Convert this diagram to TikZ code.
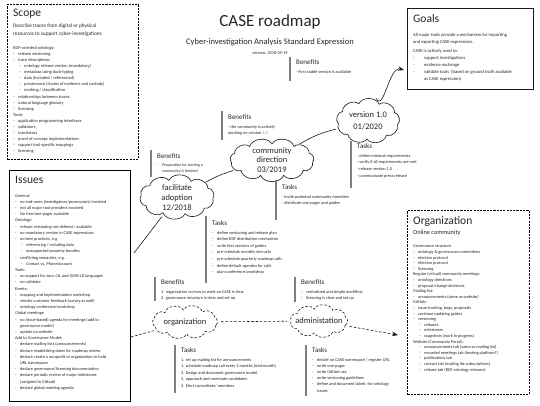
\documentclass[tikz,border=0pt]{standalone}
\usepackage{fontspec}
\setmainfont{Carlito}
\usetikzlibrary{shapes.geometric,arrows.meta}
\definecolor{txt}{HTML}{262626}
\definecolor{barc}{HTML}{7F7F7F}
\definecolor{linec}{HTML}{1A1A1A}
\definecolor{bluenum}{HTML}{4F81BD}
\newcommand{\idash}{\makebox[5pt][l]{-}}
\newcommand{\isub}{\hspace{6pt}\makebox[5pt][l]{-}}
\newcommand{\iind}{\hspace{5pt}}
\newcommand{\gdash}{\makebox[11pt][l]{-}}
% #1 style, #2 cx, #3 cy, #4 a, #5 b, #6 puffs, #7 start angle
\newcommand{\puffcloud}[7]{%
  \draw[#1] ({#2+#4*cos(#7)},{#3+#5*sin(#7)})
    \foreach \k in {1,...,#6}{ to[bend left=68] ({#2+#4*cos(#7+360/#6*\k)},{#3+#5*sin(#7+360/#6*\k)}) } -- cycle;}
\begin{document}
\begin{tikzpicture}[x=1pt,y=-1pt,
  txtblk/.style={anchor=north west, inner sep=0pt, align=left, text=txt},
  boxtitle/.style={anchor=north west, inner sep=0pt, text=txt, font=\fontsize{11.5}{13}\selectfont},
  body/.style={txtblk, font=\fontsize{4.4}{6.1}\selectfont},
  head/.style={anchor=north west, inner sep=0pt, text=txt, font=\fontsize{7}{8}\selectfont},
  small/.style={txtblk, font=\fontsize{4.3}{6.4}\selectfont},
  sidebar/.style={draw=barc, line width=1.2pt},
  cloudline/.style={draw=linec, line width=0.6pt, line join=round},
  dcloudline/.style={cloudline, dash pattern=on 2.5pt off 1.8pt},
  cloudref/.style={ellipse, inner sep=0pt},
  cltext/.style={align=center, inner sep=0pt, text=txt, font=\fontsize{8.5}{10}\selectfont},
  link/.style={draw=linec, line width=0.6pt},
  dlink/.style={link, dash pattern=on 2.5pt off 1.8pt},
  dbox/.style={draw=black, line width=0.8pt, dash pattern=on 2.2pt off 1.1pt, anchor=north west, inner sep=0pt},
  sbox/.style={draw=black, line width=0.8pt, anchor=north west, inner sep=0pt},
]
\useasboundingbox (0,0) rectangle (540,406);
\fill[white] (0,0) rectangle (540,406);

% ---------- title ----------
\node[text=txt, font=\fontsize{17}{20}\selectfont, inner sep=0pt] (title) at (270,22) {CASE roadmap};
\node[text=txt, font=\fontsize{8.5}{10}\selectfont, inner sep=0pt] (subtitle) at (270,42) {Cyber-investigation Analysis Standard Expression};
\node[text=txt, font=\fontsize{4.3}{5}\selectfont, inner sep=0pt] (version) at (270,53) {version: 2018-09-19};

% ---------- Scope ----------
\node[dbox, minimum width=131pt, minimum height=155pt] (scope) at (7,4) {};
\node[boxtitle] (scopetitle) at (13,9) {Scope};
\node[txtblk, font=\fontsize{5.3}{7.5}\selectfont] (scopedesc) at (13,24) {Describe traces from digital or physical\\resources to support cyber-investigations};
\node[body] (scopelist) at (13,46) {RDF-oriented ontology:\\
\idash release versioning\\
\idash trace descriptions\\
\isub ontology release version (mandatory)\\
\isub metadata using duck-typing\\
\isub data (included / referenced)\\
\isub provenance (chains of evidence and custody)\\
\isub marking / classification\\
\idash relationships between traces\\
\idash natural language glossary\\
\idash licensing\\
Tools:\\
\idash application programming interfaces\\
\idash validators\\
\idash translators\\
\idash proof of concept implementations\\
\idash support tool-specific mappings\\
\idash licensing};

% ---------- Issues ----------
\node[sbox, minimum width=121pt, minimum height=231pt] (issues) at (9,170) {};
\node[boxtitle] (issuestitle) at (15,176) {Issues};
\node[txtblk, font=\fontsize{4.3}{6.2}\selectfont] (issueslist) at (15,194) {General:\\
\idash no end-users (investigators/prosecutors) involved\\
\idash not all major tool providers involved\\
\idash No free/one-pager available\\
Ontology:\\
\idash release versioning not defined / available\\
\idash no mandatory version in CASE expressions\\
\idash no best practices, e.g.\\
\isub referencing / including data\\
\isub unsupported property bundles\\
\idash conflicting semantics, e.g.\\
\isub Contact vs. PhoneAccount\\
Tools:\\
\idash no support for Java, C\#, and JSON-LD languages\\
\idash no validator\\
Events:\\
\idash mapping and implementation workshop\\
\idash vendor customer feedback (survey as well)\\
\idash ontology conference/workshop\\
Global meetings:\\
\idash no (issue-based) agenda for meetings (add to\\
\iind governance model)\\
\idash update on website\\
Add to Governance Model:\\
\idash declare mailing lists (announcements)\\
\idash declare establishing dates for roadmap review\\
\idash declare create a nonprofit or organization to hold\\
\iind URL namespace\\
\idash declare governance/licensing documentation\\
\idash declare periodic review of major milestones\\
\iind (assigned to Github)\\
\idash declare global meeting agenda};

% ---------- Goals ----------
\node[sbox, draw=linec, line width=0.7pt, minimum width=126pt, minimum height=81pt] (goals) at (407,8) {};
\node[boxtitle] (goalstitle) at (413,14) {Goals};
\node[txtblk, font=\fontsize{4.6}{6.8}\selectfont] (goalstext) at (413,33) {All major tools provide a mechanism for importing\\
and exporting CASE expressions.\\[3pt]
CASE is actively used to:\\
\gdash support investigations\\
\gdash evidence exchange\\
\gdash validate tools\ \ (based on ground truth available\\
\hspace{11pt}as CASE expression)};

% ---------- Organization ----------
\node[dbox, minimum width=122pt, minimum height=184pt] (orgbox) at (407,210) {};
\node[boxtitle] (orgtitle) at (413,216) {Organization};
\node[txtblk, font=\fontsize{6.3}{7}\selectfont] (orgsub) at (413,230) {Online community};
\node[txtblk, font=\fontsize{4.3}{5.6}\selectfont] (orglist) at (413,245) {Governance structure\\
\idash ontology \& governance committees\\
\idash election protocol\\
\idash election protocol\\
\idash licensing\\
Regular (virtual) community meetings:\\
\idash ontology directions\\
\idash proposal/change decisions\\
Mailing list:\\
\idash announcements (same as website)\\
GitHub:\\
\idash issue tracking, bugs, proposals\\
\idash continue updating guides\\
\idash versioning\\
\isub releases\\
\isub milestones\\
\isub snapshots (work in progress)\\
Website (Community Portal):\\
\isub announcements tab (same as mailing list)\\
\isub recorded meetings tab (hosting platform?)\\
\isub publications tab\\
\isub contact tab (mailing list subscriptions)\\
\isub release tab (RDF ontology releases)};

% ---------- clouds ----------
\puffcloud{cloudline}{368}{121}{30}{18}{9}{12}
\node[cloudref, minimum width=68pt, minimum height=46pt] (ver) at (368,121) {};
\node[cltext, font=\fontsize{8.5}{12}\selectfont] (vertext) at (ver) {version 1.0\\01/2020};
\puffcloud{cloudline}{272}{160}{41}{16}{11}{8}
\node[cloudref, minimum width=90pt, minimum height=40pt] (com) at (272,160) {};
\node[cltext, font=\fontsize{8.5}{9.5}\selectfont] (comtext) at (com) {community\\direction\\03/2019};
\puffcloud{cloudline}{177}{197}{36}{17}{10}{5}
\node[cloudref, minimum width=80pt, minimum height=42pt] (fac) at (177,197) {};
\node[cltext, font=\fontsize{8.5}{9.8}\selectfont] (factext) at ([yshift=-1pt]fac.center) {facilitate\\adoption\\12/2018};
\puffcloud{dcloudline}{185}{322}{32}{12}{10}{15}
\node[cloudref, minimum width=72pt, minimum height=34pt] (org) at (185,322) {};
\node[cltext] (orgtext) at (org) {organization};
\puffcloud{dcloudline}{319}{321}{28}{12}{9}{20}
\node[cloudref, minimum width=64pt, minimum height=34pt] (adm) at (319,321) {};
\node[cltext] (admtext) at (adm) {administation};

% ---------- benefits / tasks ----------
% version 1.0
\draw[sidebar] (290,57) -- (290,81);
\node[head] (b1h) at (296,59) {Benefits};
\node[small] (b1t) at (296,70) {- First stable version is available};
\draw[sidebar] (351,141) -- (351,188);
\node[head] (t1h) at (357,143) {Tasks};
\node[small, font=\fontsize{4.3}{6.8}\selectfont] (t1t) at (357,154) {- define minimal requirements\\- verify if all requirements are met\\- release version 1.0\\- communicate press release};
% community
\draw[sidebar] (222,111) -- (222,140);
\node[head] (b2h) at (228,114) {Benefits};
\node[small] (b2t) at (228,125) {- the community is actively\\working on version {\color{bluenum}1.0}};
\draw[sidebar] (276,180) -- (276,220);
\node[head] (t2h) at (282,184) {Tasks};
\node[small, font=\fontsize{4.3}{6.8}\selectfont] (t2t) at (282,195) {- invite potential community members\\- distribute one-pager and guides};
% facilitate
\draw[sidebar] (151,150) -- (151,177);
\node[head] (b3h) at (157,153) {Benefits};
\node[small, font=\fontsize{4}{6}\selectfont] (b3t) at (157,164) {\idash Preparation for starting a\\\hspace{5pt}community is finished};
\draw[sidebar] (206,216) -- (206,283);
\node[head] (t3h) at (212,220) {Tasks};
\node[small, font=\fontsize{4.3}{6.6}\selectfont] (t3t) at (212,231) {\idash define versioning and release plan\\
\idash define RDF distribution mechanism\\
\idash write first versions of guides\\
\idash pre-schedule monthly dev calls\\
\idash pre-schedule quarterly roadmap calls\\
\idash define default agendas for calls\\
\idash plan conference/workshop};
% organization
\draw[sidebar] (155,277) -- (155,301);
\node[head] (b4h) at (161,279) {Benefits};
\node[small] (b4t) at (161,290) {1. organization on how to work on CASE is clear\\2. governance structure is clear and set up};
\draw[sidebar] (175,345) -- (175,393);
\node[head] (t4h) at (181,347) {Tasks};
\node[small, font=\fontsize{4.3}{6.6}\selectfont] (t4t) at (181,358) {1. set up mailing list for announcements\\
1. schedule roadmap call every 3 months (mid-month)\\
2. Design and document governance model\\
2. approach and nominate candidates\\
3. Elect committees' members};
% administation
\draw[sidebar] (295,277) -- (295,302);
\node[head] (b5h) at (301,279) {Benefits};
\node[small] (b5t) at (301,290) {\idash centralized and simple workflow\\\idash licencing is clear and set up};
\draw[sidebar] (306,345) -- (306,396);
\node[head] (t5h) at (312,347) {Tasks};
\node[small, font=\fontsize{4.3}{6.2}\selectfont] (t5t) at (312,358) {\idash decide on CASE namespace / register URL\\
\idash write one-pager\\
\idash write GitHub use\\
\idash write versioning guidelines\\
\idash define and document labels\ \ for ontology\\
\hspace{5pt}issues};

% ---------- connectors ----------
\coordinate (issuesout) at (134,253);
\coordinate (issuesdash) at (131,337);
\coordinate (goalsin) at (404,70);
\coordinate (orgboxin) at (398,335);
\draw[link] (issuesout) -- (fac);
\draw[link] (fac) to[bend left=6] (com);
\draw[link] (com) to[bend left=8] (ver);
\draw[link, -{Stealth[length=6pt,width=4.5pt]}] (ver.70) to[out=-60, in=165] (goalsin);
\draw[dlink] (issuesdash) -- (org);
\draw[dlink] (org) -- (adm);
\draw[dlink, -{Stealth[length=6pt,width=4.5pt]}] (adm) -- (orgboxin);
\end{tikzpicture}
\end{document}
